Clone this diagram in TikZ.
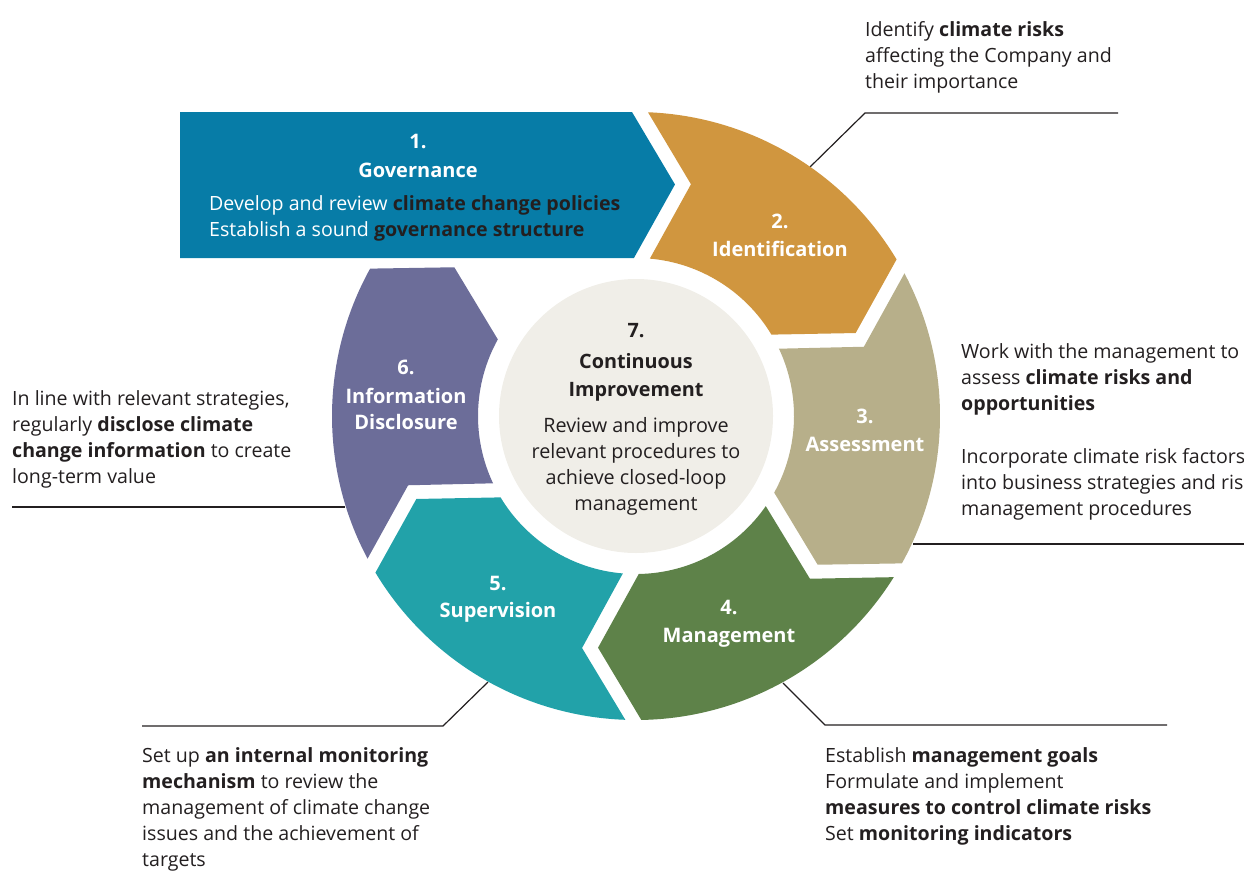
\documentclass[tikz,border=0pt]{standalone}
\usepackage{fontspec}
\setmainfont{Open Sans}
\usetikzlibrary{calc}

\definecolor{ink}{HTML}{231F20}
\definecolor{govblue}{HTML}{077CA7}
\definecolor{idorange}{HTML}{D0963F}
\definecolor{asstan}{HTML}{B7AF8A}
\definecolor{mgmtgreen}{HTML}{5E8249}
\definecolor{supteal}{HTML}{22A2A9}
\definecolor{infpurple}{HTML}{6C6D99}
\definecolor{corefill}{HTML}{F0EEE8}

% ring geometry (pt): outer radius, inner radius, mid radius,
% chevron depth and white gap between neighbouring segments
\def\Ro{304}
\def\Ri{158}
\def\Rm{231}
\def\Vd{42}
\def\Vg{16}

% one ring segment from angle #1 to angle #2 (clockwise on the page),
% with a notch at its start and a chevron at its end
\newcommand\ringseg[3]{%
  \pgfmathsetmacro\segAo{#1+atan(\Vg/\Ro)}%
  \pgfmathsetmacro\segAi{#1+atan(\Vg/\Ri)}%
  \pgfmathsetmacro\segTp{#1+90}%
  \pgfmathsetmacro\segTq{#2+90}%
  \pgfmathsetmacro\segDn{\Vd+\Vg}%
  \fill[#3] ($(C)+(\segAo:\Ro)$) arc[start angle=\segAo, end angle=#2, radius=\Ro]
    -- ($(C)+(#2:\Rm)+(\segTq:\Vd)$)
    -- ($(C)+(#2:\Ri)$)
    arc[start angle=#2, end angle=\segAi, radius=\Ri]
    -- ($(C)+(#1:\Rm)+(\segTp:\segDn)$)
    -- cycle;}

\newcommand\hl[1]{\textcolor{ink}{\bfseries #1}}

\begin{document}
\begin{tikzpicture}[x=1pt,y=-1pt,
  ann/.style={anchor=base west,inner sep=0pt,text=ink,font=\fontsize{19.6}{26}\selectfont},
  seglab/.style={anchor=base,inner sep=0pt,text=white,font=\fontsize{20}{26}\selectfont\bfseries},
  corelab/.style={anchor=base,inner sep=0pt,text=ink,font=\fontsize{19.8}{26}\selectfont},
  leader/.style={draw=ink,line width=1.2pt}]
\useasboundingbox (0,0) rectangle (1244,870);
\clip (0,0) rectangle (1244,870);

\coordinate (C) at (636,416);

% leader lines from the ring to the descriptions
\coordinate (L2a) at (810,167);
\coordinate (L2b) at (865,113);
\coordinate (L2c) at (1118,113);
\coordinate (L3a) at (913,544);
\coordinate (L3b) at (1250,544);
\coordinate (L4a) at (783,683);
\coordinate (L4b) at (825,725);
\coordinate (L4c) at (1167,725);
\coordinate (L5a) at (488,682);
\coordinate (L5b) at (443,726);
\coordinate (L5c) at (142,726);
\coordinate (L6a) at (345,507);
\coordinate (L6b) at (12,507);
\draw[leader] (L2a) -- (L2b) -- (L2c);
\draw[leader] (L3a) -- (L3b);
\draw[leader] (L4a) -- (L4b) -- (L4c);
\draw[leader] (L5a) -- (L5b) -- (L5c);
\draw[leader] (L6a) -- (L6b);

% 1. governance banner
\coordinate (GBo) at ($(C)+(-90.75:\Ro)$);
\coordinate (GBt) at ($(C)+(-90.75:\Rm)+(-0.75:\Vd)$);
\coordinate (GBi) at ($(C)+(-90.75:\Ri)$);
\fill[govblue] (180,112) -- (GBo) -- (GBt) -- (GBi) -- (180,258) -- cycle;

% 2.-6. ring segments
\ringseg{-90.75}{-31}{idorange}
\ringseg{-31}{29}{asstan}
\ringseg{29}{89}{mgmtgreen}
\ringseg{89}{149}{supteal}
\ringseg{149}{209}{infpurple}

% 7. centre disc
\node[circle,fill=corefill,minimum size=274pt,inner sep=0pt] (core) at (C) {};

% banner text
\node[seglab] (g0) at (418,148) {1.};
\node[seglab] (g00) at (418,177) {Governance};
\node[ann,text=white] (g1) at (209,210) {Develop and review \hl{climate change policies}};
\node[ann,text=white] (g2) at (209,236) {Establish a sound \hl{governance structure}};

% segment titles
\node[seglab] (s2a) at (780,228) {2.};
\node[seglab] (s2b) at (780,256) {Identification};
\node[seglab] (s3a) at (865,423) {3.};
\node[seglab] (s3b) at (865,451) {Assessment};
\node[seglab] (s4a) at (729,614) {4.};
\node[seglab] (s4b) at (729,642) {Management};
\node[seglab] (s5a) at (498,590) {5.};
\node[seglab] (s5b) at (498,617) {Supervision};
\node[seglab] (s6a) at (406,374) {6.};
\node[seglab] (s6b) at (406,403) {Information};
\node[seglab] (s6c) at (406,429) {Disclosure};

% centre text
\node[corelab] (c0) at (636,337) {\bfseries 7.};
\node[corelab] (c1) at (636,368) {\bfseries Continuous};
\node[corelab] (c2) at (636,396) {\bfseries Improvement};
\node[corelab] (c3) at (636,432) {Review and improve};
\node[corelab] (c4) at (636,458) {relevant procedures to};
\node[corelab] (c5) at (636,484) {achieve closed-loop};
\node[corelab] (c6) at (636,510) {management};

% descriptions
\node[ann] (d2a) at (865,36) {Identify \textbf{climate risks}};
\node[ann] (d2b) at (865,62) {affecting the Company and};
\node[ann] (d2c) at (865,88) {their importance};

\node[ann] (d3a) at (961,358) {Work with the management to};
\node[ann] (d3b) at (961,384) {assess \textbf{climate risks and}};
\node[ann] (d3c) at (961,410) {\textbf{opportunities}};
\node[ann] (d3d) at (961,463) {Incorporate climate risk factors};
\node[ann] (d3e) at (961,489) {into business strategies and risk};
\node[ann] (d3f) at (961,515) {management procedures};

\node[ann] (d4a) at (825,762) {Establish \textbf{management goals}};
\node[ann] (d4b) at (825,788) {Formulate and implement};
\node[ann] (d4c) at (825,814) {\textbf{measures to control climate risks}};
\node[ann] (d4d) at (825,840) {Set \textbf{monitoring indicators}};

\node[ann] (d5a) at (142,762) {Set up \textbf{an internal monitoring}};
\node[ann] (d5b) at (142,788) {\textbf{mechanism} to review the};
\node[ann] (d5c) at (142,814) {management of climate change};
\node[ann] (d5d) at (142,840) {issues and the achievement of};
\node[ann] (d5e) at (142,866) {targets};

\node[ann] (d6a) at (12,405) {In line with relevant strategies,};
\node[ann] (d6b) at (12,431) {regularly \textbf{disclose climate}};
\node[ann] (d6c) at (12,457) {\textbf{change information} to create};
\node[ann] (d6d) at (12,483) {long-term value};
\end{tikzpicture}
\end{document}
